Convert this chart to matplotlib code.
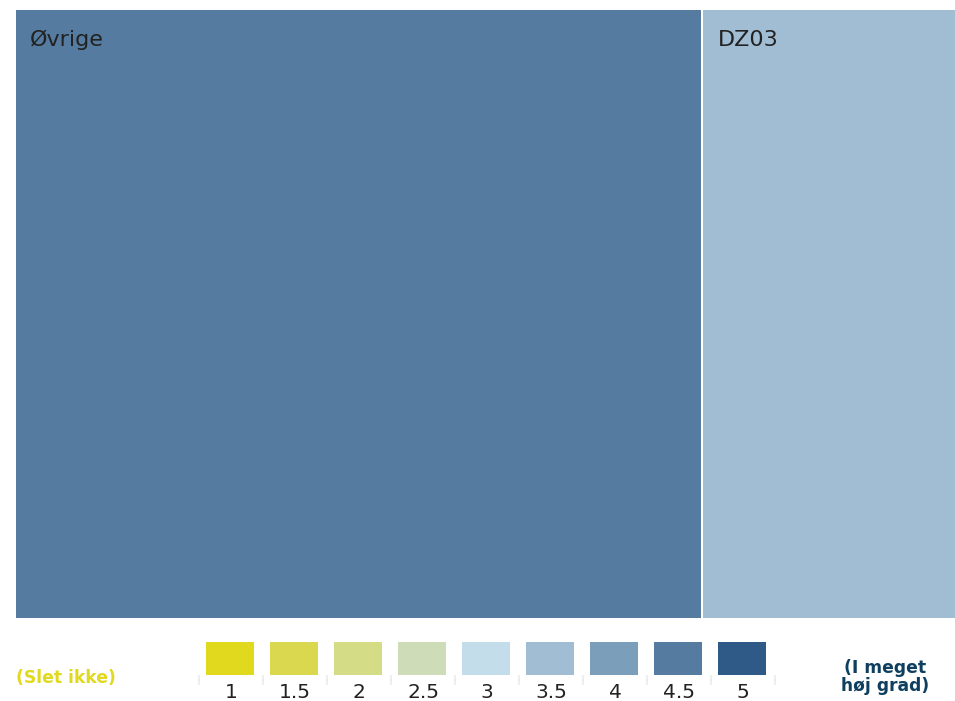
import matplotlib
matplotlib.use("Agg")
import matplotlib.pyplot as plt
from matplotlib.patches import Rectangle

# Data
categories = ["Øvrige", "DZ03"]
sizes = [73.1, 26.9]
scores = [4.5, 3.5]
legend_values = ["1", "1.5", "2", "2.5", "3", "3.5", "4", "4.5", "5"]
legend_colors = ["#E1D91E", "#DAD84F", "#D4DC86", "#CEDCB8", "#C3DDEA",
                 "#A0BDD3", "#7B9EBA", "#557CA0", "#2F5A87"]
low_label = "(Slet ikke)"
high_label = "(I meget\nhøj grad)"

color_map = dict(zip([float(v) for v in legend_values], legend_colors))

W, H = 955, 701
fig = plt.figure(figsize=(W / 100, H / 100), dpi=100)

def px_axes(x0, y0, x1, y1):
    return fig.add_axes([x0 / W, 1 - y1 / H, (x1 - x0) / W, (y1 - y0) / H])

# Treemap
ax = px_axes(16, 10, 955, 618)
total = sum(sizes)
ax.set_xlim(0, total)
ax.set_ylim(0, 1)
ax.axis("off")
x = 0
gap = total * 1.0 / 939
for name, s, sc in zip(categories, sizes, scores):
    x0 = x + (gap if x > 0 else 0)
    x1 = x + s - (gap if x + s < total - 1e-9 else 0)
    ax.add_patch(Rectangle((x0, 0), x1 - x0, 1, facecolor=color_map[sc],
                           edgecolor="none"))
    ax.text(x0 + total * 14 / 939, 1 - 30 / 608, name, fontsize=16,
            color="#222222", va="center", ha="left")
    x += s

# Legend color scale
lax = px_axes(199, 642, 775, 675)
n = len(legend_values)
lax.set_xlim(0, n)
lax.set_ylim(0, 1)
for i, c in enumerate(legend_colors):
    lax.add_patch(Rectangle((i + 0.11, 0), 0.75, 1, facecolor=c, edgecolor="none"))
for sp in lax.spines.values():
    sp.set_visible(False)
lax.set_yticks([])
lax.set_xticks([i + 0.5 for i in range(n)])
lax.set_xticklabels(legend_values, fontsize=14.5, color="#222222")
lax.tick_params(axis="x", which="major", length=0, pad=6)
lax.set_xticks(list(range(n + 1)), minor=True)
lax.tick_params(axis="x", which="minor", length=7, width=1.5, color="#EEEEEE")

fig.text(16 / W, 1 - 678 / H, low_label, fontsize=12.3, fontweight="bold",
         color="#E1D91E", ha="left", va="center", family="DejaVu Sans")
fig.text(885 / W, 1 - 677 / H, high_label, fontsize=12.3, fontweight="bold",
         color="#0E3F5F", ha="center", va="center", linespacing=1.0,
         family="DejaVu Sans")

fig.savefig("out.png", dpi=100)
